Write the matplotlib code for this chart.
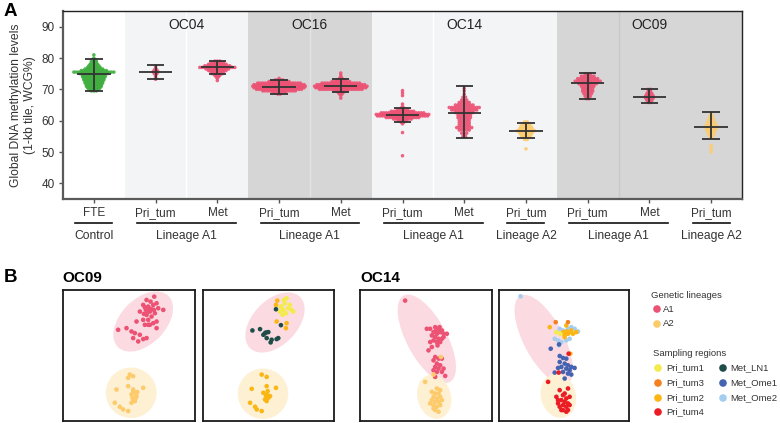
import numpy as np
import matplotlib
matplotlib.use("Agg")
import matplotlib.pyplot as plt
from matplotlib.patches import Ellipse
from matplotlib.transforms import blended_transform_factory

plt.rcParams['font.family'] = ['Liberation Sans', 'DejaVu Sans']

# ---------------- panel A data ----------------
tick_labels = ["FTE", "Pri_tum", "Met", "Pri_tum", "Met", "Pri_tum", "Met",
               "Pri_tum", "Pri_tum", "Met", "Pri_tum"]
group_lineage = ["Ctrl", "A1", "A1", "A1", "A1", "A1", "A1", "A2", "A1", "A1", "A2"]

# methylation values, read as value levels with the number of samples at each level
value_levels = [
    [69.5, 70, 70.5, 71, 71.5, 72, 72.5, 73, 73.5, 74, 74.5, 75, 75.5, 76, 76.5, 77, 77.5, 78, 78.5, 79, 79.5, 80, 81],
    [73.2, 73.8, 74.4, 75.0, 75.6, 76.2, 76.8, 77.4],
    [72.8, 73.5, 74, 74.5, 75, 75.5, 76, 76.5, 77, 77.5, 78, 78.5, 79],
    [68.5, 69, 69.5, 70, 70.5, 71, 71.5, 72, 72.5, 73, 73.5],
    [67.2, 68, 68.5, 69, 69.5, 70, 70.5, 71, 71.5, 72, 72.5, 73, 73.5, 74, 74.5, 75.2],
    [48.8, 56.2, 59, 59.5, 60, 60.5, 61, 61.5, 62, 62.5, 63, 63.5, 64, 64.5, 65.3, 68, 68.8, 69.6],
    [55, 56, 57, 57.8, 58.6, 59.4, 60.2, 61, 61.8, 62.6, 63.4, 64.2, 65, 65.8, 66.6, 67.5, 68.5, 69.5, 70.3],
    [51, 54, 54.7, 55.4, 56.1, 56.8, 57.5, 58.2, 58.9, 59.6],
    [67, 67.8, 68.6, 69.4, 70.2, 71, 71.8, 72.6, 73.4, 74.2, 75],
    [65.8, 66.5, 67.2, 67.9, 68.6, 69.3, 70],
    [50, 51, 52, 54.5, 55.5, 56.5, 57.5, 58.5, 59.5, 60.5, 61.5, 62.5],
]
value_counts = [
    [3, 5, 6, 7, 7, 8, 8, 9, 9, 10, 10, 12, 17, 11, 8, 6, 5, 4, 3, 3, 2, 1, 1],
    [1, 1, 1, 2, 3, 2, 1, 1],
    [1, 1, 2, 3, 5, 6, 8, 10, 15, 11, 8, 6, 3],
    [2, 6, 14, 19, 21, 22, 21, 18, 9, 4, 1],
    [1, 1, 2, 3, 6, 18, 21, 22, 20, 16, 8, 4, 2, 1, 1, 1],
    [1, 1, 1, 2, 4, 8, 14, 21, 22, 18, 10, 5, 2, 1, 1, 1, 1, 1],
    [2, 3, 5, 7, 5, 5, 5, 6, 6, 8, 11, 13, 8, 5, 3, 2, 1, 1, 1],
    [1, 2, 4, 5, 6, 8, 6, 5, 4, 2],
    [2, 3, 4, 5, 5, 6, 8, 11, 9, 6, 3],
    [2, 3, 4, 4, 3, 2, 2],
    [1, 1, 1, 2, 3, 4, 5, 5, 4, 3, 2, 1],
]
means = [75.0, 75.5, 77.0, 70.9, 71.2, 61.9, 62.6, 56.8, 72.1, 67.6, 57.9]
sd_hi = [79.7, 77.7, 79.1, 73.1, 73.4, 64.0, 71.2, 59.3, 75.3, 70.2, 62.8]
sd_lo = [69.6, 73.3, 75.0, 68.6, 69.1, 59.5, 54.6, 54.5, 67.0, 65.7, 54.2]

patients = ["OC04", "OC16", "OC14", "OC09"]
patient_spans = [(1, 2), (3, 4), (5, 7), (8, 10)]
patient_split = [1.5, 3.5, 5.5, 8.5]
lineage_labels = ["Control", "Lineage A1", "Lineage A1", "Lineage A1",
                  "Lineage A2", "Lineage A1", "Lineage A2"]
lineage_spans = [(0, 0), (1, 2), (3, 4), (5, 6), (7, 7), (8, 9), (10, 10)]

lineage_colors = {"Ctrl": "#3fae3f", "A1": "#ec5274", "A2": "#fdcb6b"}
shade_colors = ["#f3f4f6", "#d6d6d6", "#f3f4f6", "#d6d6d6"]
split_colors = ["#ffffff", "#e4e4e4", "#ffffff", "#c9c9c9"]

# ---------------- panel B data (embedding coordinates) ----------------
oc09_a1 = [(273, 20), (250, 30), (262, 35), (240, 45), (255, 50), (270, 45), (280, 40),
           (248, 60), (260, 65), (272, 60), (285, 55), (300, 60), (230, 65), (250, 75),
           (265, 80), (240, 90), (275, 70), (255, 90), (220, 95), (245, 105), (270, 100),
           (280, 95), (260, 105), (280, 115), (190, 115), (165, 120), (205, 125), (215, 130),
           (230, 135), (210, 145), (225, 155), (240, 148), (250, 145), (255, 105), (258, 55),
           (245, 52), (265, 58), (252, 68), (242, 72)]
oc09_a2 = [(200, 255), (210, 260), (195, 265), (160, 300), (195, 290), (240, 295), (210, 300),
           (215, 310), (205, 315), (220, 320), (210, 330), (215, 335), (205, 340), (155, 340),
           (170, 352), (180, 360), (195, 365), (210, 305), (218, 325), (208, 325), (222, 308)]
oc09_regions = {
    "Pri_tum1": [(237, 50), (247, 40), (252, 25), (242, 60), (232, 65), (257, 55), (267, 60),
                 (272, 65), (240, 75), (250, 70), (234, 50), (262, 45), (244, 30)],
    "Pri_tum2": [(224, 32), (220, 45), (222, 95), (252, 100), (250, 115),
                 (177, 255), (192, 262), (147, 298), (192, 290), (220, 295), (182, 310),
                 (192, 315), (197, 325), (187, 330), (202, 320), (192, 335), (142, 340),
                 (157, 352), (162, 360), (177, 365), (195, 305), (190, 320)],
    "Met_LN1": [(220, 58), (235, 106), (149, 122), (172, 118), (187, 130), (197, 127),
                (192, 145), (207, 150), (222, 148), (227, 145), (204, 158), (182, 135), (190, 128)],
}
oc14_a1 = [(135, 32), (210, 117), (225, 112), (235, 117), (245, 122), (220, 127), (230, 132),
           (240, 127), (250, 132), (215, 137), (225, 142), (235, 147), (245, 147), (220, 152),
           (230, 157), (240, 157), (250, 142), (260, 132), (200, 117), (210, 157), (215, 172),
           (232, 167), (205, 182), (225, 202), (235, 207), (220, 212), (245, 207), (230, 222),
           (240, 227), (225, 232), (235, 237), (250, 237), (220, 242), (230, 247), (245, 247),
           (225, 262), (255, 259), (238, 112), (228, 122)]
oc14_a2 = [(242, 202), (220, 255), (195, 277), (230, 297), (240, 302), (215, 307), (225, 312),
           (235, 312), (220, 322), (230, 327), (240, 322), (215, 332), (225, 337), (235, 337),
           (220, 347), (230, 352), (240, 347), (225, 362), (235, 367), (220, 357), (245, 332),
           (210, 342)]
oc14_regions = {
    "Met_Ome2": [(65, 19), (183, 117), (193, 122), (208, 117), (218, 112), (228, 117), (238, 125),
                 (178, 152), (188, 157), (203, 152), (213, 147), (181, 167), (168, 147)],
    "Pri_tum2": [(193, 127), (203, 125), (213, 127), (223, 132), (198, 135), (208, 132),
                 (218, 122), (203, 107), (153, 112), (215, 192), (198, 142), (233, 127)],
    "Pri_tum3": [(171, 97), (208, 97)],
    "Pri_tum1": [(173, 127), (185, 132)],
    "Met_Ome1": [(156, 177), (193, 205), (203, 207), (183, 217), (198, 222), (208, 227),
                 (218, 232), (228, 235), (188, 232), (178, 235), (203, 237), (213, 242),
                 (193, 247), (208, 252), (218, 255), (168, 249), (198, 267), (183, 199), (181, 164)],
    "Pri_tum4": [(210, 192), (180, 249), (148, 277), (208, 297), (183, 302), (198, 312),
                 (193, 317), (173, 322), (203, 327), (188, 332), (198, 337), (178, 342),
                 (208, 342), (193, 347), (183, 352), (203, 352), (213, 347), (193, 362),
                 (203, 367), (188, 362), (208, 362), (178, 332), (213, 322)],
}
# ellipse (cx, cy, width, height, angle) per panel: [A1 cloud, A2 cloud]
oc09_ell_left = [(240, 95, 216, 135, -46), (204, 310, 152, 152, 0)]
oc09_ell_right = [(217, 98, 216, 135, -46), (181, 313, 152, 152, 0)]
oc14_ell_left = [(200, 147, 295, 120, 62), (222, 322, 100, 135, -15)]
oc14_ell_right = [(135, 150, 300, 120, 62), (179, 319, 105, 135, -15)]

region_colors = {"Pri_tum1": "#f3ea4c", "Pri_tum3": "#f4801f", "Pri_tum2": "#fbb614",
                 "Pri_tum4": "#ec1c24", "Met_LN1": "#1e4d49", "Met_Ome1": "#4463b0",
                 "Met_Ome2": "#a5cdf0"}
ell_colors = ["#fbdbe1", "#fdf0d3"]

W, H = 780, 423
fig = plt.figure(figsize=(7.8, 4.23), dpi=100)


def frac(x0, y0, x1, y1):
    return [x0 / W, 1 - y1 / H, (x1 - x0) / W, (y1 - y0) / H]


# ---------------- panel A ----------------
ax = fig.add_axes(frac(63, 11, 742, 199))
ax.set_xlim(-0.5, 10.5)
ax.set_ylim(35, 95)

for (a, b), c in zip(patient_spans, shade_colors):
    ax.axvspan(a - 0.5, b + 0.5, color=c, lw=0, zorder=0)
for xs, c in zip(patient_split, split_colors):
    ax.axvline(xs, color=c, lw=1.0, zorder=0.5)
for name, (a, b) in zip(patients, patient_spans):
    ax.text((a + b) / 2, 90.6, name, ha="center", va="center", fontsize=10, color="#222")

# dot-plot layout: points sharing a level are packed side by side around the category
px_per_unit = ax.get_position().width * W / 11.0
step = 2.5 / px_per_unit
for i, (lv, ct) in enumerate(zip(value_levels, value_counts)):
    xs, ys = [], []
    for v, n in zip(lv, ct):
        xs += list(i + (np.arange(n) - (n - 1) / 2) * step)
        ys += [v] * n
    ax.scatter(xs, ys, s=6.5, color=lineage_colors[group_lineage[i]],
               edgecolors="none", alpha=0.9, zorder=2)

pos = np.arange(len(tick_labels))
ax.hlines(means, pos - 0.27, pos + 0.27, color="#333333", lw=1.3, zorder=3)
ax.hlines(sd_hi, pos - 0.14, pos + 0.14, color="#333333", lw=1.3, zorder=3)
ax.hlines(sd_lo, pos - 0.14, pos + 0.14, color="#333333", lw=1.3, zorder=3)
ax.vlines(pos, sd_lo, sd_hi, color="#333333", lw=1.3, zorder=3)

ax.set_yticks([40, 50, 60, 70, 80, 90])
ax.set_xticks(pos)
ax.set_xticklabels(tick_labels)
ax.tick_params(axis="both", labelsize=8.5, colors="#555555", labelcolor="#333333",
               length=3, width=1, pad=3)
ax.set_ylabel("Global DNA methylation levels\n(1-kb tile, WCG%)", fontsize=8.7,
              color="#333333", labelpad=4)
for side in ["left", "bottom"]:
    ax.spines[side].set_color("#5a5a5a")
    ax.spines[side].set_linewidth(1.6)
for side in ["top", "right"]:
    ax.spines[side].set_color("#222222")
    ax.spines[side].set_linewidth(1.0)

tr = blended_transform_factory(ax.transData, ax.transAxes)
for lab, (a, b) in zip(lineage_labels, lineage_spans):
    ax.plot([a - 0.3, b + 0.3], [-0.128, -0.128], transform=tr, color="#111111",
            lw=1.2, clip_on=False)
    ax.text((a + b) / 2, -0.197, lab, transform=tr, ha="center", va="center",
            fontsize=8.7, color="#333333")


# ---------------- panel B ----------------
def tsne_panel(box, groups, ells, xmax=395):
    bx = fig.add_axes(frac(*box))
    bx.set_xlim(0, xmax)
    bx.set_ylim(395, 0)
    for (cx, cy, w, h, ang), c in zip(ells, ell_colors):
        bx.add_patch(Ellipse((cx, cy), w, h, angle=ang, color=c, lw=0, zorder=1))
    for pts, c in groups:
        xs, ys = zip(*pts)
        bx.scatter(xs, ys, s=11, color=c, edgecolors="none", zorder=3)
    bx.set_xticks([])
    bx.set_yticks([])
    for sp in bx.spines.values():
        sp.set_color("#1a1a1a")
        sp.set_linewidth(1.3)
    return bx


tsne_panel((63, 290, 195, 421),
           [(oc09_a1, lineage_colors["A1"]), (oc09_a2, lineage_colors["A2"])], oc09_ell_left)
tsne_panel((203, 290, 334, 421),
           [(v, region_colors[k]) for k, v in oc09_regions.items()], oc09_ell_right)
tsne_panel((360, 290, 492, 421),
           [(oc14_a1, lineage_colors["A1"]), (oc14_a2, lineage_colors["A2"])], oc14_ell_left)
tsne_panel((499, 290, 629, 421),
           [(v, region_colors[k]) for k, v in oc14_regions.items()], oc14_ell_right, xmax=392)

# ---------------- overlay: panel letters, titles, legend ----------------
ov = fig.add_axes([0, 0, 1, 1])
ov.set_xlim(0, W)
ov.set_ylim(H, 0)
ov.set_axis_off()

ov.text(4, 12, "A", fontsize=13.5, fontweight="bold", ha="left", va="center")
ov.text(4, 278, "B", fontsize=13.5, fontweight="bold", ha="left", va="center")
ov.text(62, 278, "OC09", fontsize=11, fontweight="bold", ha="left", va="center")
ov.text(360, 278, "OC14", fontsize=11, fontweight="bold", ha="left", va="center")

ov.text(651, 295, "Genetic lineages", fontsize=6.8, color="#333333", va="center")
lin_names = ["A1", "A2"]
lin_y = [309, 324]
ov.scatter([657] * 2, lin_y, s=30, color=[lineage_colors[k] for k in lin_names],
           edgecolors="none")
for k, y in zip(lin_names, lin_y):
    ov.text(663, y, k, fontsize=6.8, color="#333333", va="center")

ov.text(653, 353, "Sampling regions", fontsize=6.8, color="#333333", va="center")
leg_col1 = ["Pri_tum1", "Pri_tum3", "Pri_tum2", "Pri_tum4"]
leg_col2 = ["Met_LN1", "Met_Ome1", "Met_Ome2"]
row_y = [368, 383, 398, 412]
ov.scatter([658] * 4, row_y, s=30, color=[region_colors[k] for k in leg_col1],
           edgecolors="none")
ov.scatter([723] * 3, row_y[:3], s=30, color=[region_colors[k] for k in leg_col2],
           edgecolors="none")
for k, y in zip(leg_col1, row_y):
    ov.text(666, y, k, fontsize=6.8, color="#333333", va="center")
for k, y in zip(leg_col2, row_y):
    ov.text(730, y, k, fontsize=6.8, color="#333333", va="center")

fig.savefig("out.png", dpi=100)
